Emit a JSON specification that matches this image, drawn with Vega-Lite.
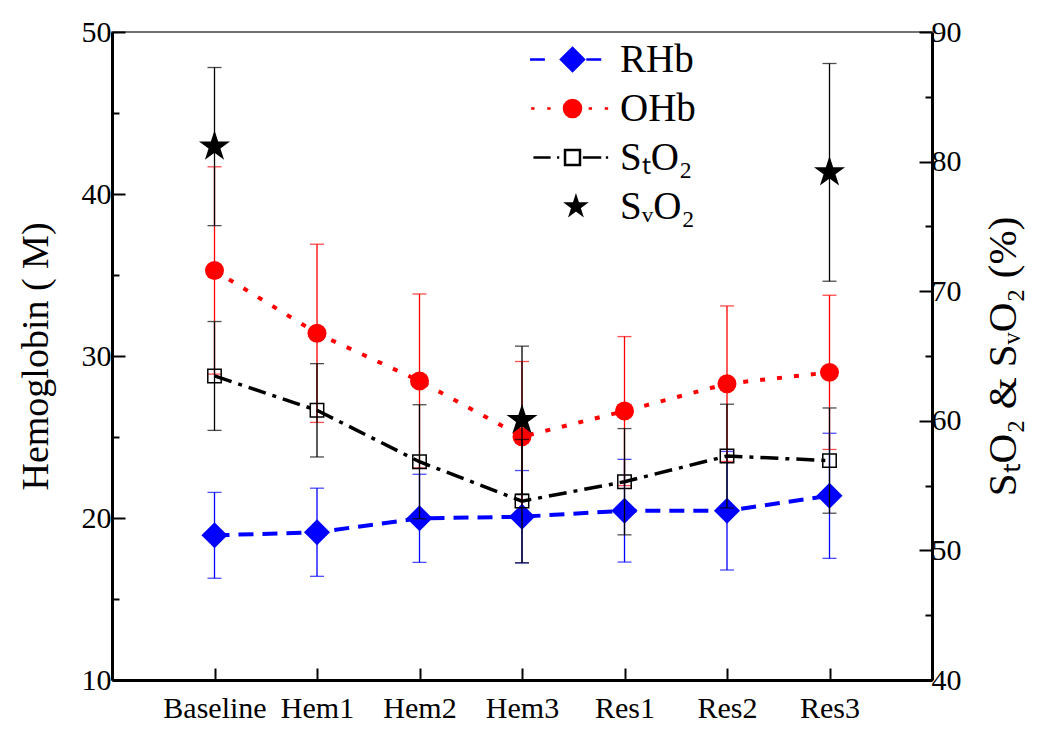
{
  "$schema": "https://vega.github.io/schema/vega-lite/v6.json",
  "width": 820,
  "height": 648,
  "autosize": {"type": "none"},
  "padding": {"left": 112, "top": 32, "right": 118, "bottom": 49},
  "background": "white",
  "config": {
    "font": "Liberation Serif",
    "view": {"stroke": "#444444", "strokeWidth": 1.5},
    "axis": {
      "grid": false,
      "domainColor": "black",
      "domainWidth": 3,
      "tickColor": "black",
      "tickWidth": 2,
      "labelColor": "black",
      "titleColor": "black",
      "labelFontSize": 30,
      "titleFontSize": 38,
      "titleFontWeight": "normal",
      "labelFont": "Liberation Serif",
      "titleFont": "Liberation Serif"
    }
  },
  "data": {
    "values": [
      {"cond": "Baseline", "series": "RHb", "mean": 18.93, "sd": 2.65},
      {"cond": "Hem1", "series": "RHb", "mean": 19.12, "sd": 2.72},
      {"cond": "Hem2", "series": "RHb", "mean": 19.98, "sd": 2.72},
      {"cond": "Hem3", "series": "RHb", "mean": 20.08, "sd": 2.85},
      {"cond": "Res1", "series": "RHb", "mean": 20.45, "sd": 3.17},
      {"cond": "Res2", "series": "RHb", "mean": 20.45, "sd": 3.66},
      {"cond": "Res3", "series": "RHb", "mean": 21.37, "sd": 3.86},
      {"cond": "Baseline", "series": "OHb", "mean": 35.28, "sd": 6.4},
      {"cond": "Hem1", "series": "OHb", "mean": 31.4, "sd": 5.5},
      {"cond": "Hem2", "series": "OHb", "mean": 28.46, "sd": 5.37},
      {"cond": "Hem3", "series": "OHb", "mean": 25.02, "sd": 4.64},
      {"cond": "Res1", "series": "OHb", "mean": 26.6, "sd": 4.6},
      {"cond": "Res2", "series": "OHb", "mean": 28.29, "sd": 4.8},
      {"cond": "Res3", "series": "OHb", "mean": 28.99, "sd": 4.76},
      {"cond": "Baseline", "series": "StO2", "mean": 63.46, "sd": 4.2},
      {"cond": "Hem1", "series": "StO2", "mean": 60.81, "sd": 3.6},
      {"cond": "Hem2", "series": "StO2", "mean": 56.84, "sd": 4.4},
      {"cond": "Hem3", "series": "StO2", "mean": 53.8, "sd": 4.76},
      {"cond": "Res1", "series": "StO2", "mean": 55.3, "sd": 4.1},
      {"cond": "Res2", "series": "StO2", "mean": 57.28, "sd": 4.0},
      {"cond": "Res3", "series": "StO2", "mean": 56.93, "sd": 4.06},
      {"cond": "Baseline", "series": "SvO2", "mean": 81.16, "sd": 6.1},
      {"cond": "Hem3", "series": "SvO2", "mean": 60.06, "sd": 5.7},
      {"cond": "Res3", "series": "SvO2", "mean": 79.17, "sd": 8.4}
    ]
  },
  "encoding": {
    "x": {
      "field": "cond",
      "type": "ordinal",
      "scale": {"type": "point", "padding": 1, "domain": ["Baseline", "Hem1", "Hem2", "Hem3", "Res1", "Res2", "Res3"]},
      "axis": {"title": null, "labelAngle": 0, "tickSize": -12, "labelPadding": 25, "domainWidth": 3}
    },
    "color": {
      "field": "series",
      "type": "nominal",
      "scale": {"domain": ["RHb", "OHb", "StO2", "SvO2"], "range": ["#0000ff", "#ff0000", "#000000", "#000000"]},
      "legend": {
        "orient": "none",
        "legendX": 396,
        "legendY": 8,
        "title": null,
        "padding": 0,
        "labelFontSize": 39,
        "labelFont": "Liberation Serif",
        "labelColor": "black",
        "labelLimit": 300,
        "symbolSize": 529,
        "symbolStrokeWidth": 2.5,
        "symbolOffset": 45,
        "labelOffset": 28,
        "rowPadding": 9,
        "labelExpr": "datum.value === 'StO2' ? 'SₜO₂' : datum.value === 'SvO2' ? 'SᵥO₂' : datum.label",
        "encode": {
          "symbols": {
            "update": {
              "shape": {"signal": "datum.value === 'RHb' ? 'M-3.7,0L-2.4,0M-1,0L0,-1L1,0L0,1ZM1.2,0L2.5,0' : datum.value === 'OHb' ? 'M-3.6,0L-3.3,0M-2.2,0L-1.9,0M-0.74,0A0.74,0.74 0 1,0 0.74,0A0.74,0.74 0 1,0 -0.74,0ZM1.4,0L1.7,0M2.8,0L3.1,0' : datum.value === 'StO2' ? 'M-3.4,0L-1.9,0M-1.35,0L-1.15,0M-0.65,-0.65L0.65,-0.65L0.65,0.65L-0.65,0.65ZM0.9,0L2.5,0M2.9,0L3.1,0' : 'M0.3,-0.82L0.484,-0.253L1.08,-0.253L0.598,0.097L0.782,0.663L0.3,0.313L-0.182,0.663L0.002,0.097L-0.48,-0.253L0.116,-0.253Z'"},
              "fill": {"signal": "datum.value === 'RHb' ? '#0000ff' : datum.value === 'OHb' ? '#ff0000' : datum.value === 'StO2' ? '#ffffff' : '#000000'"},
              "stroke": {"signal": "datum.value === 'RHb' ? '#0000ff' : datum.value === 'OHb' ? '#ff0000' : '#000000'"},
              "opacity": {"value": 1},
              "fillOpacity": {"signal": "datum.value === 'StO2' ? 0 : 1"},
              "strokeOpacity": {"value": 1}
            }
          }
        }
      }
    }
  },
  "layer": [
    {
      "encoding": {
        "y": {
          "field": "mean",
          "type": "quantitative",
          "scale": {"domain": [10, 50], "nice": false, "zero": false},
          "axis": {
            "orient": "left",
            "values": [10, 15, 20, 25, 30, 35, 40, 45, 50],
            "labelExpr": "datum.value % 10 === 0 ? datum.label : ''",
            "tickSize": {"condition": {"test": "datum.value % 10 === 0", "value": -13}, "value": -7},
            "labelPadding": 14,
            "title": "Hemoglobin ( M)",
            "titlePadding": 26
          }
        }
      },
      "layer": [
        {
          "transform": [{"filter": "datum.series === 'RHb' || datum.series === 'OHb'"}],
          "mark": {"type": "errorbar", "ticks": {"size": 14, "thickness": 1.3}, "rule": {"strokeWidth": 1.3}},
          "encoding": {"yError": {"field": "sd"}}
        },
        {
          "transform": [{"filter": "datum.series === 'RHb'"}],
          "mark": {"type": "line", "strokeDash": [15, 9], "strokeWidth": 4}
        },
        {
          "transform": [{"filter": "datum.series === 'OHb'"}],
          "mark": {"type": "line", "strokeDash": [5, 12], "strokeWidth": 4}
        },
        {
          "transform": [{"filter": "datum.series === 'RHb'"}],
          "mark": {"type": "point", "shape": "diamond", "filled": true, "size": 680, "opacity": 1}
        },
        {
          "transform": [{"filter": "datum.series === 'OHb'"}],
          "mark": {"type": "point", "shape": "circle", "filled": true, "size": 360, "opacity": 1}
        }
      ]
    },
    {
      "encoding": {
        "y": {
          "field": "mean",
          "type": "quantitative",
          "scale": {"domain": [40, 90], "nice": false, "zero": false},
          "axis": {
            "orient": "right",
            "values": [40, 45, 50, 55, 60, 65, 70, 75, 80, 85, 90],
            "labelExpr": "datum.value % 10 === 0 ? datum.label : ''",
            "tickSize": {"condition": {"test": "datum.value % 10 === 0", "value": -13}, "value": -7},
            "labelPadding": 12,
            "title": "SₜO₂ & SᵥO₂ (%)",
            "titleAngle": 270,
            "titleBaseline": "top",
            "titleFontSize": 41,
            "titlePadding": 22
          }
        }
      },
      "layer": [
        {
          "transform": [{"filter": "datum.series === 'StO2' || datum.series === 'SvO2'"}],
          "mark": {"type": "errorbar", "ticks": {"size": 14, "thickness": 1.3}, "rule": {"strokeWidth": 1.3}},
          "encoding": {"yError": {"field": "sd"}}
        },
        {
          "transform": [{"filter": "datum.series === 'StO2'"}],
          "mark": {"type": "line", "strokeDash": [18, 7, 4, 7], "strokeWidth": 3.5}
        },
        {
          "transform": [{"filter": "datum.series === 'StO2'"}],
          "mark": {"type": "point", "shape": "square", "filled": false, "size": 180, "strokeWidth": 1.5, "opacity": 1}
        },
        {
          "transform": [{"filter": "datum.series === 'SvO2'"}],
          "mark": {"type": "point", "shape": "M0,-1L0.2245,-0.309L0.9511,-0.309L0.3633,0.118L0.5878,0.809L0,0.382L-0.5878,0.809L-0.3633,0.118L-0.9511,-0.309L-0.2245,-0.309Z", "filled": true, "size": 1065, "opacity": 1}
        }
      ]
    }
  ],
  "resolve": {"scale": {"y": "independent"}}
}
